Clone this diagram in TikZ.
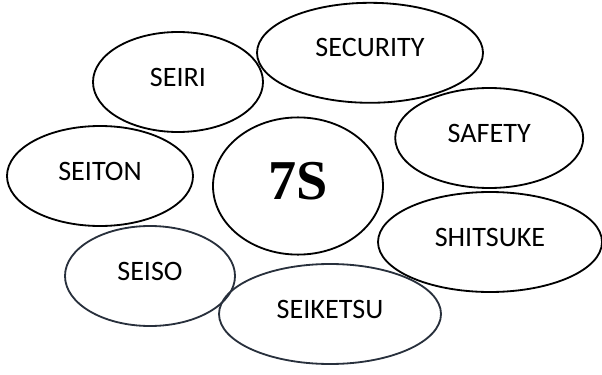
\documentclass[tikz,border=0pt]{standalone}
\usepackage{fontspec}
\setmainfont{Carlito}
\newfontfamily\timesfont{Liberation Serif}
\usetikzlibrary{shapes.geometric}
\begin{document}
\begin{tikzpicture}[
  sbubble/.style={shape=ellipse,draw,line width=1.3pt,inner sep=0pt,
    minimum height=2.5cm,text depth=7pt,font=\fontsize{20}{24}\selectfont},
  sdarkbubble/.style={sbubble,draw=sdark}
]
\definecolor{sdark}{RGB}{40,48,60}
\useasboundingbox (0,0) rectangle (15.05,9.35);
% the seven S around the centre
\node[sbubble,minimum width=4.25cm] (seiri) at (4.45,7.30) {SEIRI};
\node[sbubble,minimum width=5.65cm] (security) at (9.25,8.03) {SECURITY};
\node[sbubble,minimum width=4.7cm] (safety) at (12.23,5.9) {SAFETY};
\node[sbubble,minimum width=4.65cm] (seiton) at (2.5,4.95) {SEITON};
\node[sbubble,minimum width=5.6cm] (shitsuke) at (12.25,3.3) {SHITSUKE};
\node[sdarkbubble,minimum width=4.25cm] (seiso) at (3.75,2.45) {SEISO};
\node[sdarkbubble,minimum width=5.55cm] (seiketsu) at (8.25,1.5) {SEIKETSU};
% centre
\node[sbubble,minimum width=4.25cm,minimum height=3.43cm,
  font=\timesfont\bfseries\fontsize{40}{44}\selectfont] (sevens) at (7.45,4.7) {7S};
\end{tikzpicture}
\end{document}
